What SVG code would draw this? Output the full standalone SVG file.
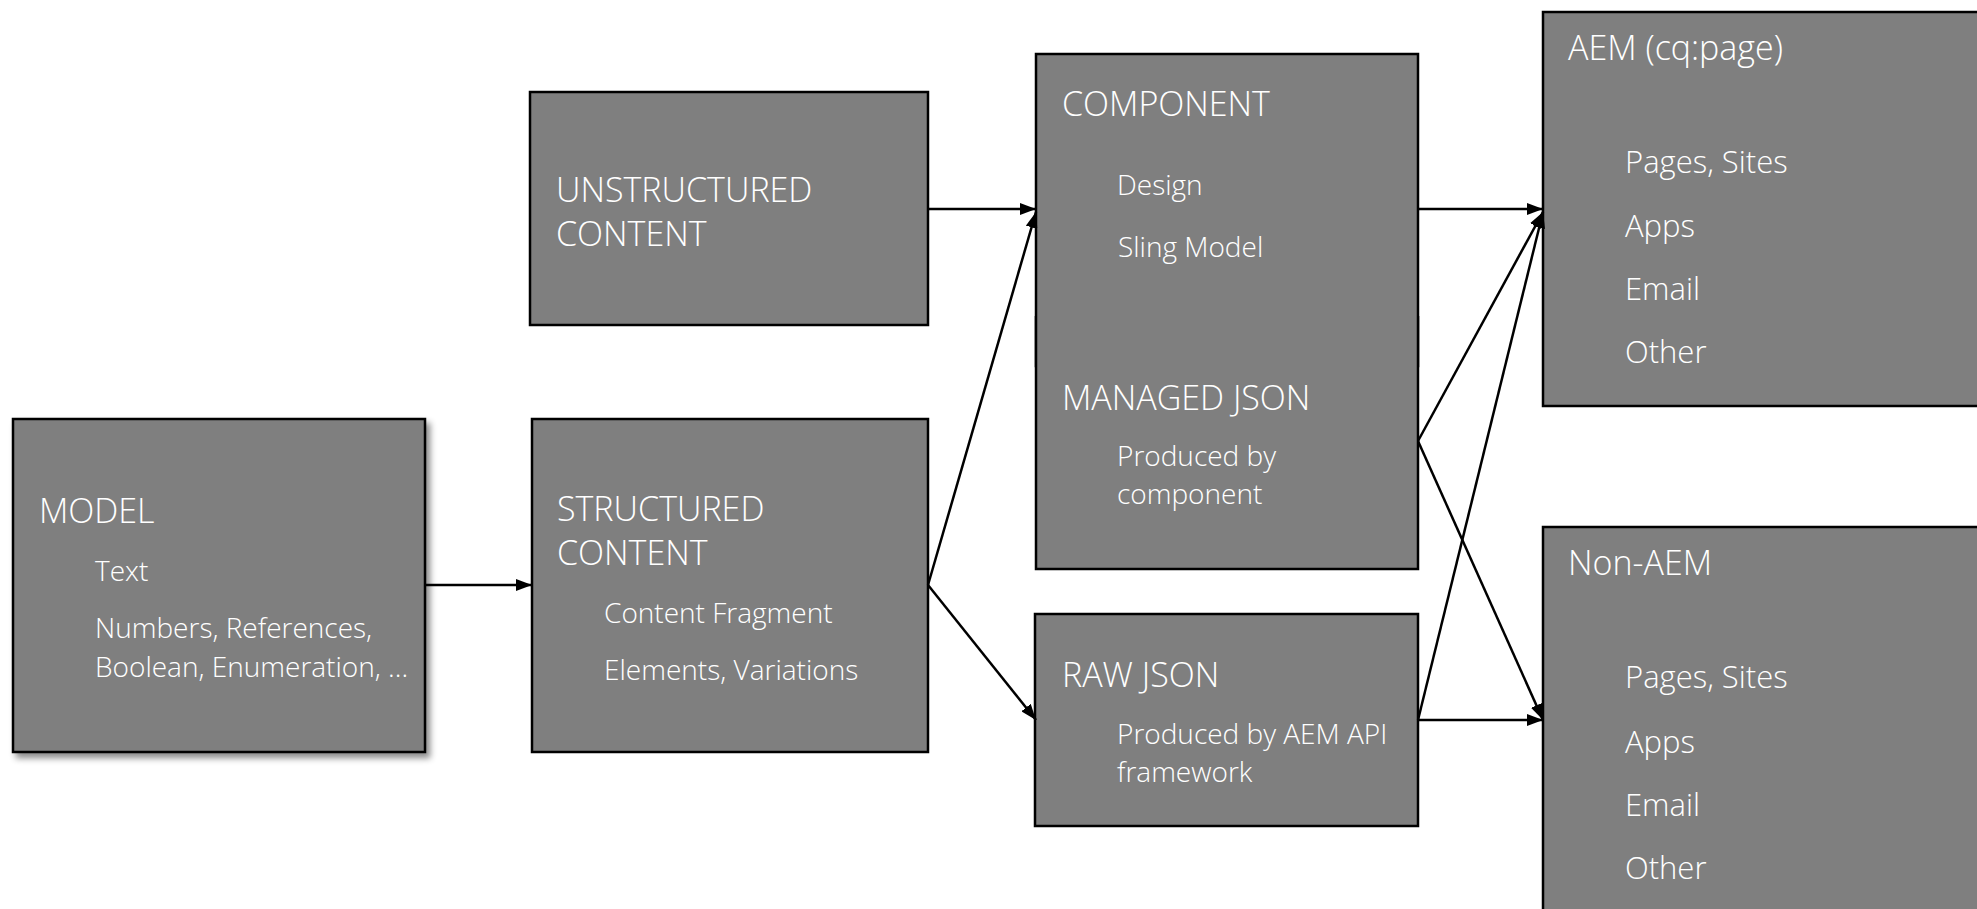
<svg xmlns="http://www.w3.org/2000/svg" width="1977" height="909" viewBox="0 0 1977 909">
<style>
.box{fill:#7f7f7f;stroke:#000;stroke-width:2.5}
.fill{fill:#7f7f7f;stroke:none}
.edge{fill:none;stroke:#000;stroke-width:2.5}
.t{font-family:"Open Sans","Liberation Sans",sans-serif;font-weight:300;fill:#fff}
.h{font-size:34px}
.s{font-size:28px}
.l{font-size:31px}
.c{fill:none;stroke:#000;stroke-width:2.5}
</style>
<defs>
<marker id="ah" viewBox="0 0 16 12" refX="16" refY="6" markerWidth="16" markerHeight="12" markerUnits="userSpaceOnUse" orient="auto">
<path d="M0,0 L16,6 L0,12 Z" fill="#000"/>
</marker>
<filter id="sh" x="-5%" y="-5%" width="115%" height="115%">
<feDropShadow dx="4" dy="5" stdDeviation="3" flood-color="#000" flood-opacity="0.45"/>
</filter>
</defs>
<rect width="1977" height="909" fill="#fff"/>

<g id="model">
<rect class="box" x="13" y="419" width="412" height="333" filter="url(#sh)"/>
<text class="t h" x="39" y="523">MODEL</text>
<text class="t s" x="95" y="581">Text</text>
<text class="t s" x="95" y="638">Numbers, References,</text>
<text class="t s" x="95" y="677">Boolean, Enumeration, ...</text>
</g>

<g id="unstructured">
<rect class="box" x="530" y="92" width="398" height="233"/>
<text class="t h" x="556" y="202">UNSTRUCTURED</text>
<text class="t h" x="556" y="246">CONTENT</text>
</g>

<g id="structured">
<rect class="box" x="532" y="419" width="396" height="333"/>
<text class="t h" x="557" y="521">STRUCTURED</text>
<text class="t h" x="557" y="565">CONTENT</text>
<text class="t s" x="604" y="623">Content Fragment</text>
<text class="t s" x="604" y="680">Elements, Variations</text>
</g>

<g id="component">
<rect class="box" x="1036" y="54" width="382" height="312"/>
<text class="t h" x="1062" y="116">COMPONENT</text>
<text class="t s" x="1117" y="195">Design</text>
<text class="t s" x="1118" y="257">Sling Model</text>
</g>

<g id="managed-json">
<rect class="fill" x="1036" y="316" width="382" height="253"/>
<path class="edge" d="M1036,316 V569 H1418 V316"/>
<text class="t h" x="1062" y="410">MANAGED JSON</text>
<text class="t s" x="1117" y="466">Produced by</text>
<text class="t s" x="1117" y="504">component</text>
</g>

<g id="raw-json">
<rect class="box" x="1035" y="614" width="383" height="212"/>
<text class="t h" x="1062" y="687">RAW JSON</text>
<text class="t s" x="1117" y="744">Produced by AEM API</text>
<text class="t s" x="1117" y="782">framework</text>
</g>

<g id="aem">
<rect class="box" x="1543" y="12" width="450" height="394"/>
<text class="t h" x="1568" y="60">AEM (cq:page)</text>
<text class="t l" x="1625" y="173">Pages, Sites</text>
<text class="t l" x="1625" y="237">Apps</text>
<text class="t l" x="1625" y="300">Email</text>
<text class="t l" x="1625" y="363">Other</text>
</g>

<g id="non-aem">
<rect class="box" x="1543" y="527" width="450" height="400"/>
<text class="t h" x="1568" y="575">Non-AEM</text>
<text class="t l" x="1625" y="688">Pages, Sites</text>
<text class="t l" x="1625" y="753">Apps</text>
<text class="t l" x="1625" y="816">Email</text>
<text class="t l" x="1625" y="879">Other</text>
</g>

<g id="connectors">
<line class="c" x1="425" y1="585" x2="532" y2="585" marker-end="url(#ah)"/>
<line class="c" x1="928" y1="209" x2="1036" y2="209" marker-end="url(#ah)"/>
<line class="c" x1="928" y1="585" x2="1036" y2="212" marker-end="url(#ah)"/>
<line class="c" x1="928" y1="585" x2="1036" y2="720" marker-end="url(#ah)"/>
<line class="c" x1="1418" y1="209" x2="1543" y2="209" marker-end="url(#ah)"/>
<line class="c" x1="1418" y1="441" x2="1543" y2="212" marker-end="url(#ah)"/>
<line class="c" x1="1418" y1="441" x2="1543" y2="720" marker-end="url(#ah)"/>
<line class="c" x1="1418" y1="720" x2="1543" y2="212" marker-end="url(#ah)"/>
<line class="c" x1="1418" y1="720" x2="1543" y2="720" marker-end="url(#ah)"/>
</g>
</svg>
